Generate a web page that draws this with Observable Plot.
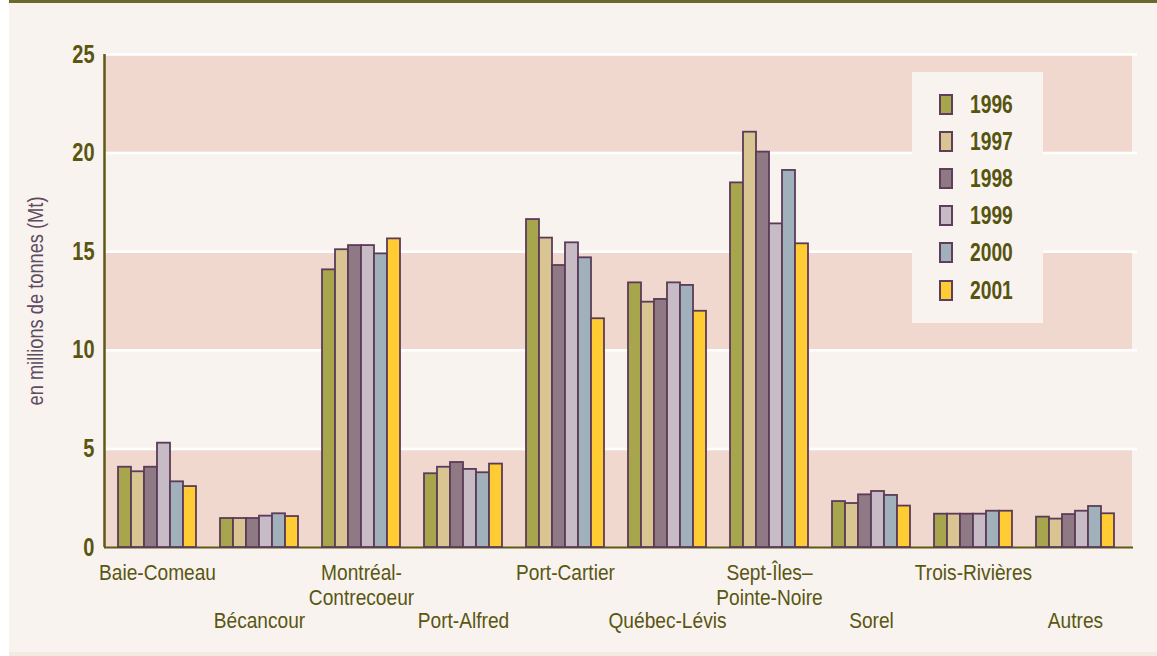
<!DOCTYPE html>
<html><head><meta charset="utf-8">
<script src="https://cdn.jsdelivr.net/npm/d3@7"></script>
<script src="https://cdn.jsdelivr.net/npm/@observablehq/plot@0.6"></script>
<style>
body{margin:0;background:#fff;}
#wrap{position:relative;width:1157px;height:656px;overflow:hidden;background:#fff;}
#panel{position:absolute;left:9px;top:0;width:1148px;height:652px;background:#f8f3ef;}
#topbar{position:absolute;left:9px;top:0;width:1148px;height:3px;background:#6b6a2a;}
#strip{position:absolute;left:9px;top:652px;width:1148px;height:4px;background:#f2ebe1;}
.layer{position:absolute;left:0;top:0;}
#legend{position:absolute;left:912px;top:72px;width:131px;height:251px;background:#f8f3ef;}
.sw{position:absolute;left:27px;width:14px;height:21px;border:2px solid #5e3e5a;box-sizing:border-box;}
.lab{position:absolute;left:58px;font-weight:bold;font-size:25px;color:#57540f;line-height:25px;transform:scaleX(0.77);transform-origin:0 50%;white-space:nowrap;}
</style>
</head><body>
<div id="wrap">
  <div id="panel"></div>
  <div id="topbar"></div>
  <div id="strip"></div>
</div>
<script>
const FONT = '"Liberation Sans", Arial, sans-serif';
const OLIVE = "#5a5612";
const AXIS = "#5e5a16";
const STROKE = "#5c3b58";

const ports = ["Baie-Comeau","Bécancour","Montréal-Contrecoeur","Port-Alfred","Port-Cartier","Québec-Lévis","Sept-Îles–Pointe-Noire","Sorel","Trois-Rivières","Autres"];
const portLabels = ["Baie-Comeau","Bécancour","Montréal-\nContrecoeur","Port-Alfred","Port-Cartier","Québec-Lévis","Sept-Îles–\nPointe-Noire","Sorel","Trois-Rivières","Autres"];
const years = ["1996","1997","1998","1999","2000","2001"];
const colors = ["#a8a64c","#d9c592","#8f7985","#c7bcc5","#a0b1bb","#ffcc33"];

const s1996 = [4.07, 1.47, 14.08, 3.74, 16.63, 13.42, 18.49, 2.33, 1.69, 1.54];
const s1997 = [3.84, 1.47, 15.10, 4.07, 15.69, 12.44, 21.06, 2.23, 1.69, 1.44];
const s1998 = [4.07, 1.47, 15.31, 4.31, 14.30, 12.58, 20.05, 2.67, 1.69, 1.67];
const s1999 = [5.29, 1.59, 15.31, 3.96, 15.45, 13.42, 16.41, 2.84, 1.69, 1.84];
const s2000 = [3.33, 1.71, 14.89, 3.79, 14.69, 13.29, 19.12, 2.64, 1.84, 2.08];
const s2001 = [3.09, 1.57, 15.65, 4.23, 11.60, 11.98, 15.40, 2.10, 1.84, 1.71];
const series = [s1996, s1997, s1998, s1999, s2000, s2001];

const yTicks = [0, 5, 10, 15, 20, 25];
const yTitle = "en millions de tonnes (Mt)";

const table = [];
years.forEach((y, j) => ports.forEach((p, i) => table.push({port: p, year: y, value: series[j][i]})));
const labels = ports.map((p, i) => ({port: p, label: portLabels[i], row: i % 2}));
const bands = [];
for (let k = 0; k + 1 < yTicks.length; k += 2) bands.push({lo: yTicks[k], hi: yTicks[k + 1]});

const W = 1157, H = 656;
const M = {marginLeft: 104, marginRight: 25, marginTop: 54, marginBottom: 109};

const bg = Plot.plot({
  width: W, height: H, ...M,
  style: {background: "transparent", fontFamily: FONT, overflow: "visible"},
  x: {domain: [0, 1], axis: null},
  y: {domain: [0, 25], axis: null},
  marks: [
    Plot.rectY(bands, {y1: "lo", y2: "hi", x1: 0, x2: 1, fill: "#f0d8cf"}),
    Plot.ruleY(yTicks.slice(1), {stroke: "#ffffff", strokeWidth: 2.5, insetRight: -5}),
    Plot.axisY(yTicks, {tickSize: 0, tickPadding: 10, fontSize: 25, fontWeight: "bold", fill: OLIVE, label: null}),
    Plot.text([yTitle], {frameAnchor: "left", textAnchor: "middle", dx: -69, rotate: -90, fontSize: 22, fill: "#5e4b5e"}),
    Plot.ruleX([0], {stroke: AXIS, strokeWidth: 2.5}),
    Plot.ruleY([0], {stroke: AXIS, strokeWidth: 2.2, insetRight: -1})
  ]
});
bg.classList.add("layer");

const fg = Plot.plot({
  width: W, height: H, ...M, marginRight: 29,
  style: {background: "transparent", fontFamily: FONT, overflow: "visible"},
  fx: {domain: ports, paddingInner: 0.197, paddingOuter: 0.11, axis: null, label: null},
  x: {domain: years, paddingInner: 0, paddingOuter: 0, axis: null},
  y: {domain: [0, 25], axis: null},
  color: {domain: years, range: colors},
  marks: [
    Plot.barY(table, {fx: "port", x: "year", y: "value", fill: "year", stroke: STROKE, strokeWidth: 1.8}),
    Plot.text(labels.filter(d => d.row === 0), {fx: "port", text: "label", frameAnchor: "bottom", lineAnchor: "top", dy: 15, fontSize: 22, lineHeight: 1.12, fill: OLIVE}),
    Plot.text(labels.filter(d => d.row === 1), {fx: "port", text: "label", frameAnchor: "bottom", lineAnchor: "top", dy: 63, fontSize: 22, lineHeight: 1.12, fill: OLIVE})
  ]
});
fg.classList.add("layer");

// narrow the glyphs horizontally to mimic the condensed typeface of the original
function squeeze(nodes, k) {
  nodes.forEach(t => {
    let tr = t.getAttribute("transform");
    if (!tr) {
      const x = t.getAttribute("x") || 0, y = t.getAttribute("y") || 0;
      t.removeAttribute("x"); t.removeAttribute("y");
      tr = `translate(${x},${y})`;
    }
    t.setAttribute("transform", tr + ` scale(${k},1)`);
  });
}
squeeze(bg.querySelectorAll('g[aria-label="y-axis tick label"] text'), 0.8);
squeeze(bg.querySelectorAll('g[aria-label="text"] text'), 0.83);
squeeze(fg.querySelectorAll('g[aria-label="text"] text'), 0.87);

const wrap = document.getElementById("wrap");
wrap.appendChild(bg);
wrap.appendChild(fg);

const legend = document.createElement("div");
legend.id = "legend";
legend.style.fontFamily = FONT;
years.forEach((y, j) => {
  const cy = 32 + j * 37.2;
  const sw = document.createElement("div");
  sw.className = "sw";
  sw.style.top = (cy - 10.5) + "px";
  sw.style.background = colors[j];
  const lab = document.createElement("div");
  lab.className = "lab";
  lab.style.top = (cy - 12.5) + "px";
  lab.textContent = y;
  legend.appendChild(sw);
  legend.appendChild(lab);
});
wrap.appendChild(legend);
</script>
</body></html>
